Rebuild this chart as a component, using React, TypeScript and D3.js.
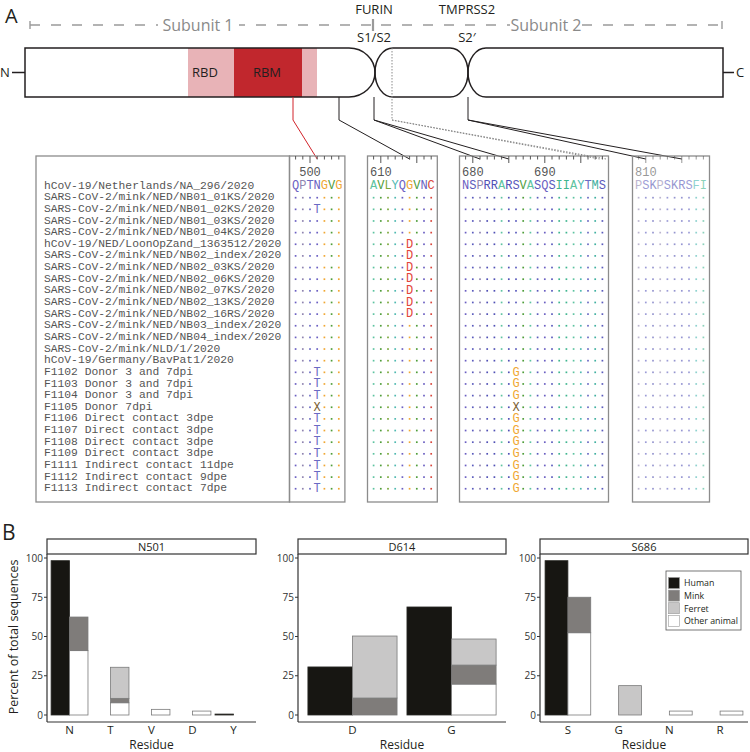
import * as d3 from "d3"

const SANS = "'Open Sans', 'Noto Sans', sans-serif"
const MONO = "'Courier New', Courier, 'Liberation Mono', 'DejaVu Sans Mono', monospace"

// ---------- panel A: alignment data ----------
const sampleNames = [
  "hCoV-19/Netherlands/NA_296/2020",
  "SARS-CoV-2/mink/NED/NB01_01KS/2020",
  "SARS-CoV-2/mink/NED/NB01_02KS/2020",
  "SARS-CoV-2/mink/NED/NB01_03KS/2020",
  "SARS-CoV-2/mink/NED/NB01_04KS/2020",
  "hCoV-19/NED/LoonOpZand_1363512/2020",
  "SARS-CoV-2/mink/NED/NB02_index/2020",
  "SARS-CoV-2/mink/NED/NB02_03KS/2020",
  "SARS-CoV-2/mink/NED/NB02_06KS/2020",
  "SARS-CoV-2/mink/NED/NB02_07KS/2020",
  "SARS-CoV-2/mink/NED/NB02_13KS/2020",
  "SARS-CoV-2/mink/NED/NB02_16RS/2020",
  "SARS-CoV-2/mink/NED/NB03_index/2020",
  "SARS-CoV-2/mink/NED/NB04_index/2020",
  "SARS-CoV-2/mink/NLD/1/2020",
  "hCoV-19/Germany/BavPat1/2020",
  "F1102 Donor 3 and 7dpi",
  "F1103 Donor 3 and 7dpi",
  "F1104 Donor 3 and 7dpi",
  "F1105 Donor 7dpi",
  "F1106 Direct contact 3dpe",
  "F1107 Direct contact 3dpe",
  "F1108 Direct contact 3dpe",
  "F1109 Direct contact 3dpe",
  "F1111 Indirect contact 11dpe",
  "F1112 Indirect contact 9dpe",
  "F1113 Indirect contact 7dpe",
]

const blockStarts = [498, 609, 679, 809]
const blockSeqs = ["QPTNGVG", "AVLYQGVNC", "NSPRRARSVASQSIIAYTMS", "PSKPSKRSFI"]
const blockRuler = [[500], [610], [680, 690], [810]]

const n501TRows = [2, 16, 17, 18, 20, 21, 22, 23, 24, 25, 26]
const d614DRows = [5, 6, 7, 8, 9, 10, 11]
const s686GRows = [16, 17, 18, 20, 21, 22, 23, 24, 25, 26]

// [block, row, position, residue]
const variants: [number, number, number, string][] = [
  ...n501TRows.map((r) => [0, r, 501, "T"] as [number, number, number, string]),
  [0, 19, 501, "X"],
  ...d614DRows.map((r) => [1, r, 614, "D"] as [number, number, number, string]),
  ...s686GRows.map((r) => [2, r, 686, "G"] as [number, number, number, string]),
  [2, 19, 686, "X"],
]

const residueColor: Record<string, string> = {
  A: "#5dc3a0", V: "#4f9d3a", L: "#7aa83a", I: "#3fb58f", M: "#40b0a0",
  F: "#45b5b0", Y: "#4fb9b0", W: "#45b5b0", G: "#f0a732", P: "#8f84b0",
  C: "#d9473c", D: "#e2453a", E: "#e2453a", N: "#6b5fc2", Q: "#6b5fc2",
  S: "#5b5bbd", T: "#6a6ac4", K: "#4f4fb0", R: "#5050b5", H: "#5a7ac0",
  X: "#7a6030",
}

// ---------- panel B: residue frequencies ----------
const siteNames = ["N501", "D614", "S686"]
const siteResidues = [["N", "T", "V", "D", "Y"], ["D", "G"], ["S", "G", "N", "R"]]
const humanPct = [[98.3, 0, 0, 0, 0.6], [30.6, 68.8], [98.3, 0, 0, 0]]
const otherPct = [[41, 7.8, 3.6, 2.5, 0], [0, 19.7], [52.4, 0, 2.5, 2.5]]
const minkPct = [[21.4, 2.8, 0, 0, 0], [10.8, 12.1], [22.6, 0, 0, 0]]
const ferretPct = [[0, 19.8, 0, 0, 0], [39.5, 16.6], [0, 18.7, 0, 0]]
const hostNames = ["Human", "Mink", "Ferret", "Other animal"]
const hostFill = ["#171612", "#7f7c7a", "#c8c7c7", "#ffffff"]
const pctTicks = [0, 25, 50, 75, 100]

export default function App() {
  // layout
  const pitch = 7.2
  const blockX = [292, 370, 462, 635]
  const blockOpacity = [1, 1, 1, 0.6]
  const alignTop = 156
  const alignBottom = 502
  const rowY = d3.scaleLinear().domain([0, sampleNames.length - 1]).range([185, 487.7])
  const charX = (b: number, i: number) => blockX[b] + (i + 0.5) * pitch

  const pTop = 48
  const pBot = 97
  const elbowY = 120

  const connectors = [
    { from: 293, to: [[0, 3]], color: "#d2232a", dash: undefined },
    { from: 339, to: [[1, 5]], color: "#231f20", dash: undefined },
    { from: 374, to: [[2, 2], [2, 6]], color: "#231f20", dash: undefined },
    { from: 392, to: [[2, 18.6], [2, 19.5]], color: "#8a8a8a", dash: "1.5,1.5" },
    { from: 468, to: [[3, 1], [3, 6]], color: "#231f20", dash: undefined },
  ]

  // panel B layout
  const facetX = [[47, 256], [298, 506], [540, 748]]
  const stripTop = 539
  const stripBot = 554
  const axisY = 722
  const yPct = d3.scaleLinear().domain([0, 100]).range([715, 558])

  return (
    <svg
      width={750}
      height={752}
      style={{ position: "absolute", left: 0, top: 0, background: "#fff" }}
    >
      <rect width={750} height={752} fill="#fff" />

      {/* ===== Panel A ===== */}
      <text x={5} y={23} fontFamily={SANS} fontSize={20} fill="#231f20">A</text>

      {/* subunit dashed line */}
      <g stroke="#9a9a9a" strokeWidth={1.4} fill="none">
        <line x1={30} x2={158} y1={25} y2={25} strokeDasharray="10,11" />
        <line x1={239} x2={372} y1={25} y2={25} strokeDasharray="10,11" strokeDashoffset={4} />
        <line x1={375} x2={510} y1={25} y2={25} strokeDasharray="10,11" strokeDashoffset={-6} />
        <line x1={582} x2={722} y1={25} y2={25} strokeDasharray="10,11" />
        <line x1={30} x2={30} y1={21} y2={29} />
        <line x1={722} x2={722} y1={21} y2={29} />
        <line x1={373} x2={373} y1={19} y2={31} strokeWidth={2.2} />
      </g>
      <text x={198} y={31} textAnchor="middle" fontFamily={SANS} fontSize={16} fill="#8a8a8a">Subunit 1</text>
      <text x={546} y={31} textAnchor="middle" fontFamily={SANS} fontSize={16} fill="#8a8a8a">Subunit 2</text>
      <text x={374} y={14} textAnchor="middle" fontFamily={SANS} fontSize={13} fill="#231f20">FURIN</text>
      <text x={467} y={14} textAnchor="middle" fontFamily={SANS} fontSize={13} fill="#231f20">TMPRSS2</text>
      <text x={374} y={42} textAnchor="middle" fontFamily={SANS} fontSize={13} fill="#231f20">S1/S2</text>
      <text x={467} y={42} textAnchor="middle" fontFamily={SANS} fontSize={13} fill="#231f20">S2′</text>

      {/* protein schematic */}
      <rect x={188} y={pTop} width={317 - 188} height={pBot - pTop} fill="#e8b3b7" />
      <rect x={234} y={pTop} width={302 - 234} height={pBot - pTop} fill="#c1272d" />
      <g fill="none" stroke="#231f20" strokeWidth={1.5}>
        <path d={`M25,${pTop} H349 A26,24.5 0 0 1 349,${pBot} H25 Z`} />
        <path d={`M393,${pTop} H450 A18,24.5 0 0 1 450,${pBot} H393 A18,24.5 0 0 1 393,${pTop} Z`} />
        <path d={`M486,${pTop} H723 V${pBot} H486 A18,24.5 0 0 1 486,${pTop} Z`} />
        <line x1={12} x2={25} y1={72.5} y2={72.5} />
        <line x1={723} x2={734} y1={72.5} y2={72.5} />
      </g>
      <text x={0} y={77} fontFamily={SANS} fontSize={13} fill="#231f20">N</text>
      <text x={736} y={77} fontFamily={SANS} fontSize={13} fill="#231f20">C</text>
      <text x={205} y={77} textAnchor="middle" fontFamily={SANS} fontSize={13} fill="#231f20">RBD</text>
      <text x={267} y={77} textAnchor="middle" fontFamily={SANS} fontSize={13} fill="#231f20">RBM</text>

      {/* connectors */}
      {connectors.map((c, ci) => (
        <g key={ci} stroke={c.color} strokeWidth={1} fill="none" strokeDasharray={c.dash}>
          <line x1={c.from} x2={c.from} y1={ci === 3 ? pTop : pBot} y2={elbowY} />
          {c.to.map(([b, i], k) => (
            <line key={k} x1={c.from} y1={elbowY} x2={charX(b, i)} y2={alignTop + 3} />
          ))}
        </g>
      ))}

      {/* names box */}
      <rect x={36} y={alignTop} width={blockX[0] - 2.5 - 36} height={alignBottom - alignTop}
        fill="none" stroke="#8c8c8c" strokeWidth={1.3} />
      {sampleNames.map((n, r) => (
        <text key={n + r} x={44} y={rowY(r) + 3.6} fontFamily={MONO} fontSize={11.3} fill="#555">
          {n}
        </text>
      ))}

      {/* alignment blocks */}
      {blockSeqs.map((seq, b) => {
        const left = blockX[b] - 2.5
        const right = blockX[b] + seq.length * pitch + 2.5
        const chars = seq.split("")
        return (
          <g key={b}>
            <rect x={left} y={alignTop} width={right - left} height={alignBottom - alignTop}
              fill="none" stroke="#8c8c8c" strokeWidth={1.3} />
            <g opacity={blockOpacity[b]}>
              {chars.map((_, i) => {
                const pos = blockStarts[b] + i
                return (
                  <line key={"t" + i} x1={charX(b, i)} x2={charX(b, i)} y1={alignTop}
                    y2={alignTop + (pos % 5 === 0 ? 7 : 3.5)} stroke="#555" strokeWidth={1} />
                )
              })}
              {blockRuler[b].map((p) => (
                <text key={"r" + p} x={blockX[b] + (p - blockStarts[b] - 1) * pitch} y={176}
                  fontFamily={MONO} fontSize={12} fill="#555">{p}</text>
              ))}
              {chars.map((ch, i) => (
                <text key={"c" + i} x={charX(b, i)} y={rowY(0) + 4} textAnchor="middle"
                  fontFamily={MONO} fontSize={12} fill={residueColor[ch]}>{ch}</text>
              ))}
              {sampleNames.slice(1).map((_, rr) => {
                const r = rr + 1
                return chars.map((ch, i) => {
                  const pos = blockStarts[b] + i
                  const v = variants.find((d) => d[0] === b && d[1] === r && d[2] === pos)
                  if (v) {
                    return (
                      <text key={r + "-" + i} x={charX(b, i)} y={rowY(r) + 4.3} textAnchor="middle"
                        fontFamily={MONO} fontSize={12} fill={residueColor[v[3]]}>{v[3]}</text>
                    )
                  }
                  return (
                    <rect key={r + "-" + i} x={charX(b, i) - 0.85} y={rowY(r) + 0.2} width={1.7} height={1.7}
                      fill={residueColor[ch]} />
                  )
                })
              })}
            </g>
          </g>
        )
      })}

      {/* ===== Panel B ===== */}
      <text x={2} y={540} fontFamily={SANS} fontSize={21} fill="#231f20">B</text>
      <text transform={`translate(18,637) rotate(-90)`} textAnchor="middle" fontFamily={SANS}
        fontSize={12.5} fill="#231f20">Percent of total sequences</text>

      {siteNames.map((site, f) => {
        const [x0, x1] = facetX[f]
        const x = d3.scalePoint<string>().domain(siteResidues[f]).range([x0, x1]).padding(0.55)
        const half = x.step() * 0.45
        return (
          <g key={site}>
            {/* bars */}
            {siteResidues[f].map((res, i) => {
              const cx = x(res)!
              const stack = [
                { v: otherPct[f][i], fill: hostFill[3] },
                { v: minkPct[f][i], fill: hostFill[1] },
                { v: ferretPct[f][i], fill: hostFill[2] },
              ]
              let base = 0
              const h = humanPct[f][i]
              return (
                <g key={res}>
                  {h > 0 && (
                    <rect x={cx - half} width={half} y={yPct(h)} height={yPct(0) - yPct(h)}
                      fill={hostFill[0]} stroke="#2a2a26" strokeWidth={0.8} />
                  )}
                  {stack.map((s, k) => {
                    if (s.v <= 0) return null
                    const y0 = base
                    base += s.v
                    return (
                      <rect key={k} x={cx} width={half} y={yPct(base)} height={yPct(y0) - yPct(base)}
                        fill={s.fill} stroke="#7a7a7a" strokeWidth={0.8} />
                    )
                  })}
                  <text x={cx} y={734} textAnchor="middle" fontFamily={SANS} fontSize={11.5} fill="#231f20">
                    {res}
                  </text>
                </g>
              )
            })}
            {/* axes */}
            <line x1={x0} x2={x0} y1={stripBot} y2={axisY} stroke="#333" strokeWidth={1.2} />
            <line x1={x0} x2={x1} y1={axisY} y2={axisY} stroke="#333" strokeWidth={1.2} />
            {pctTicks.map((t) => (
              <g key={t}>
                <line x1={x0 - 3} x2={x0} y1={yPct(t)} y2={yPct(t)} stroke="#333" strokeWidth={1} />
                <text x={x0 - 4} y={yPct(t) + 3.5} textAnchor="end" fontFamily={SANS} fontSize={10}
                  fill="#333">{t}</text>
              </g>
            ))}
            {/* strip */}
            <rect x={x0} y={stripTop} width={x1 - x0} height={stripBot - stripTop} fill="#fff"
              stroke="#333" strokeWidth={1.2} />
            <text x={(x0 + x1) / 2} y={550.5} textAnchor="middle" fontFamily={SANS} fontSize={11}
              fill="#231f20">{site}</text>
            <text x={(x0 + x1) / 2} y={749} textAnchor="middle" fontFamily={SANS} fontSize={12}
              fill="#231f20">Residue</text>
          </g>
        )
      })}

      {/* legend */}
      <rect x={666} y={571} width={75} height={59} fill="#fff" stroke="#555" strokeWidth={0.8} />
      {hostNames.map((name, i) => (
        <g key={name} transform={`translate(668.5,${577.5 + i * 12.6})`}>
          <rect width={11} height={11} fill={hostFill[i]} stroke="#999" strokeWidth={0.6} />
          <text x={15.5} y={8.8} fontFamily={SANS} fontSize={8.8} fill="#231f20">{name}</text>
        </g>
      ))}
    </svg>
  )
}
